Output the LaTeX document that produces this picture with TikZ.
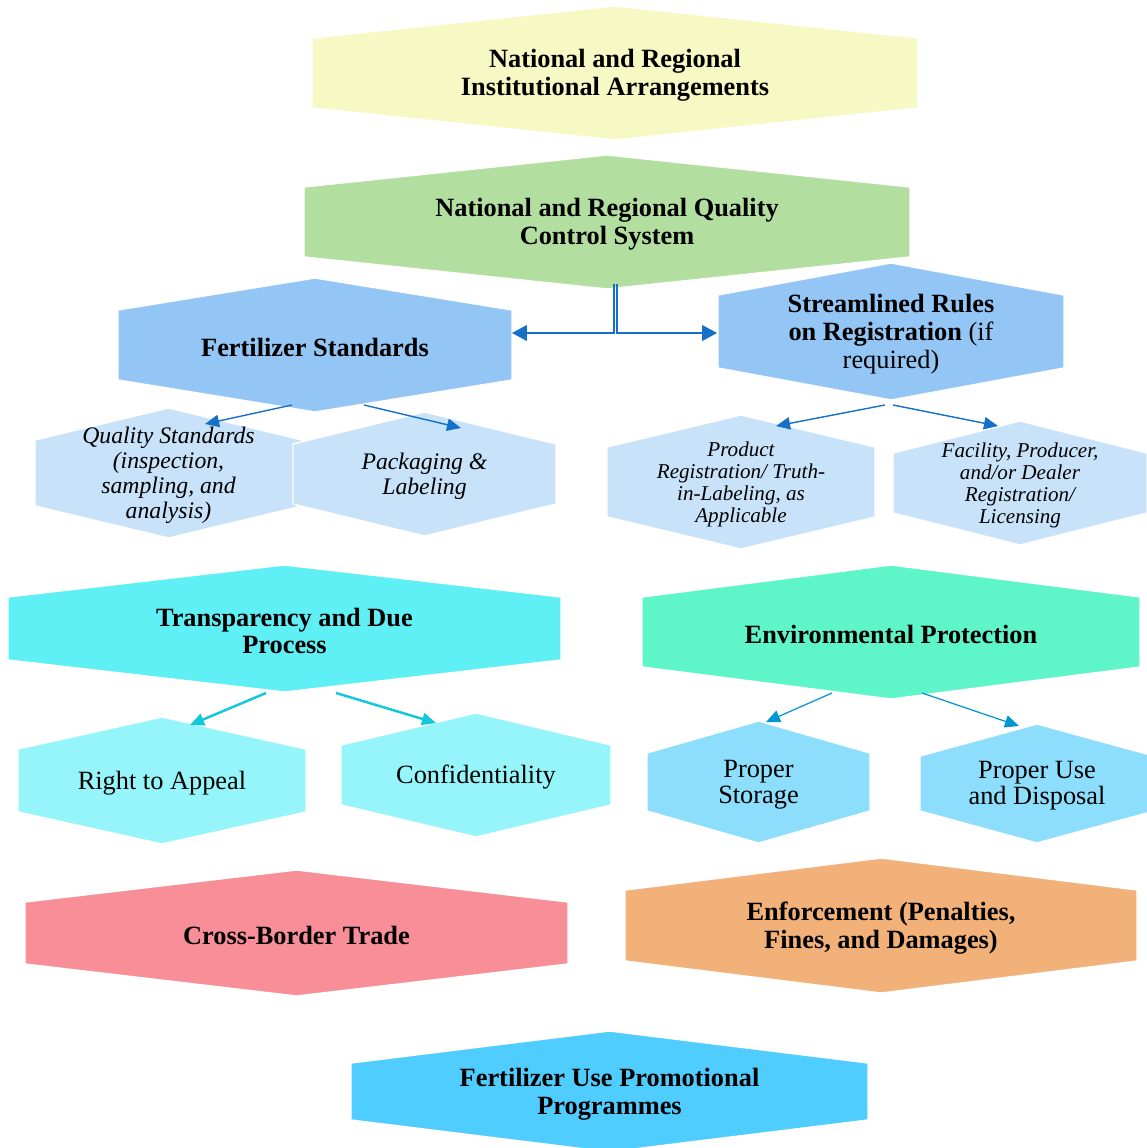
\documentclass[tikz,border=0pt]{standalone}
\usepackage{fontspec}
\setmainfont{Liberation Serif}
\usetikzlibrary{arrows.meta}

\definecolor{instyellow}{RGB}{247,249,196}
\definecolor{qcgreen}{RGB}{178,223,160}
\definecolor{stdblue}{RGB}{148,198,245}
\definecolor{paleblue}{RGB}{200,226,250}
\definecolor{tpcyan}{RGB}{94,240,245}
\definecolor{envmint}{RGB}{94,245,200}
\definecolor{lightcyan}{RGB}{150,245,250}
\definecolor{skyblue}{RGB}{140,222,252}
\definecolor{tradepink}{RGB}{247,142,152}
\definecolor{enforange}{RGB}{242,177,120}
\definecolor{promoblue}{RGB}{80,205,255}
\definecolor{linkblue}{RGB}{21,112,200}
\definecolor{linkcyan}{RGB}{20,200,220}
\definecolor{linkenv}{RGB}{0,150,210}

\newcommand{\dd}{32}
% hexagon: name, colour, left, right, top, bottom, text style, text
\newcommand{\hexbox}[8]{%
  \fill[#2, draw=white, line width=0.8pt] (#3,#5+\dd) -- ({(#3+#4)/2},#5) -- (#4,#5+\dd)
    -- (#4,#6-\dd) -- ({(#3+#4)/2},#6) -- (#3,#6-\dd) -- cycle;
  \node[#7] (#1) at ({(#3+#4)/2},{(#5+#6)/2+2.5}) {#8};
}

\tikzset{
  bigtext/.style={align=center, inner sep=0pt, font=\fontsize{15}{15.8}\selectfont\bfseries},
  ruletext/.style={align=center, inner sep=0pt, font=\fontsize{15}{15.9}\selectfont},
  plaintext/.style={align=center, inner sep=0pt, font=\fontsize{15}{14.8}\selectfont},
  italtext/.style={align=center, inner sep=0pt, font=\fontsize{13.5}{14.2}\selectfont\itshape},
  smalltext/.style={align=center, inner sep=0pt, font=\fontsize{12}{12.5}\selectfont\itshape},
  link/.style={draw=linkblue, line width=0.8pt, -{Triangle[length=8pt,width=7pt]}},
  elbow/.style={draw=linkblue, line width=0.8pt, -{Triangle[length=8.5pt,width=9pt]}},
}

\begin{document}
\begin{tikzpicture}[x=0.02cm, y=-0.02cm]

        \useasboundingbox (0,0) rectangle (1146,1148);

        \hexbox{ia}{instyellow}{312}{918}{6}{140}{bigtext}{National and Regional\\Institutional Arrangements}
        \hexbox{qc}{qcgreen}{304}{910}{155}{289}{bigtext}{National and Regional Quality\\Control System}

        \hexbox{fs}{stdblue}{118}{512}{278}{412}{bigtext}{Fertilizer Standards}
        \hexbox{sr}{stdblue}{718}{1064}{263}{400}{ruletext}{\textbf{Streamlined Rules}\\\textbf{on Registration} (if\\required)}

        \hexbox{qs}{paleblue}{35}{302}{408}{538}{italtext}{Quality Standards\\(inspection,\\sampling, and\\analysis)}
        \hexbox{pl}{paleblue}{293}{556}{412}{536}{italtext}{Packaging \&\\Labeling}
        \hexbox{pr}{paleblue}{607}{875}{415}{549}{smalltext}{Product\\Registration/ Truth-\\in-Labeling, as\\Applicable}
        \hexbox{fp}{paleblue}{893}{1147}{421}{545}{smalltext}{Facility, Producer,\\and/or Dealer\\Registration/\\Licensing}

        \hexbox{tp}{tpcyan}{8}{561}{565}{692}{bigtext}{Transparency and Due\\Process}
        \hexbox{ep}{envmint}{642}{1140}{565}{699}{bigtext}{Environmental Protection}

        \hexbox{ra}{lightcyan}{18}{306}{717}{844}{plaintext}{Right to Appeal}
        \hexbox{cf}{lightcyan}{341}{611}{713}{837}{plaintext}{Confidentiality}
        \hexbox{ps}{skyblue}{647}{870}{721}{843}{plaintext}{Proper\\Storage}
        \hexbox{pu}{skyblue}{920}{1154}{724}{843}{plaintext}{Proper Use\\and Disposal}

        \hexbox{cb}{tradepink}{25}{568}{870}{996}{bigtext}{Cross-Border Trade}
        \hexbox{en}{enforange}{625}{1137}{858}{993}{bigtext}{Enforcement (Penalties,\\Fines, and Damages)}

        \hexbox{fu}{promoblue}{351}{868}{1031}{1152}{bigtext}{Fertilizer Use Promotional\\Programmes}

        % quality control system branches out to both sides
        \coordinate (qc-l) at (614,284);
        \coordinate (qc-r) at (617,284);
        \coordinate (fs-in) at (512,333);
        \coordinate (sr-in) at (717,333);
        \draw[elbow] (qc-l) |- (fs-in);
        \draw[elbow] (qc-r) |- (sr-in);

        \coordinate (fs-a) at (292,405);
        \coordinate (fs-b) at (364,405);
        \coordinate (qs-in) at (205,424);
        \coordinate (pl-in) at (461,428);
        \draw[link] (fs-a) -- (qs-in);
        \draw[link] (fs-b) -- (pl-in);

        \coordinate (sr-a) at (885,405);
        \coordinate (sr-b) at (893,405);
        \coordinate (pr-in) at (776,426);
        \coordinate (fp-in) at (998,426);
        \draw[link] (sr-a) -- (pr-in);
        \draw[link] (sr-b) -- (fp-in);

        \coordinate (tp-a) at (266,693);
        \coordinate (tp-b) at (336,693);
        \coordinate (ra-in) at (190,725);
        \coordinate (cf-in) at (436,723);
        \draw[link, draw=linkcyan, line width=1.4pt] (tp-a) -- (ra-in);
        \draw[link, draw=linkcyan, line width=1.4pt] (tp-b) -- (cf-in);

        \coordinate (ep-a) at (832,693);
        \coordinate (ep-b) at (922,693);
        \coordinate (ps-in) at (766,722);
        \coordinate (pu-in) at (1019,726);
        \draw[link, draw=linkenv, line width=0.7pt] (ep-a) -- (ps-in);
        \draw[link, draw=linkenv, line width=0.7pt] (ep-b) -- (pu-in);

\end{tikzpicture}
\end{document}
